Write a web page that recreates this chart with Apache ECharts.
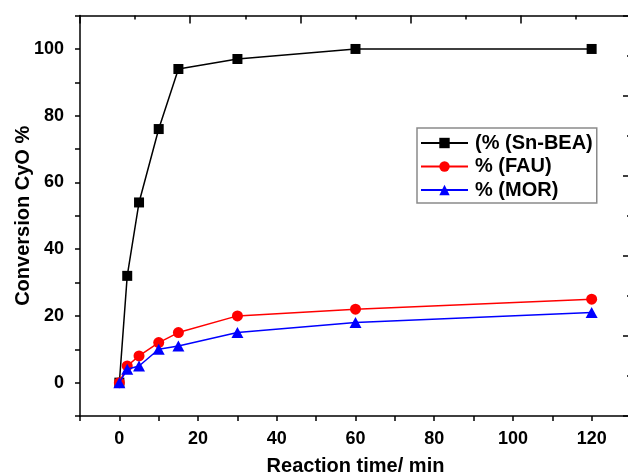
<!DOCTYPE html>
<html>
<head>
<meta charset="utf-8">
<script src="https://cdn.jsdelivr.net/npm/echarts@6/dist/echarts.min.js"></script>
<style>
  html, body { margin: 0; padding: 0; background: #fff; }
  #chart { width: 628px; height: 474px; }
</style>
</head>
<body>
<div id="chart"></div>
<script>
// Reaction times (min) at which conversion was sampled
const reactionTimes = [0, 2, 5, 10, 15, 30, 60, 120];

// Cyclohexanone oxide conversion (%) for each catalyst
const snBeaConversion = [0, 32, 54, 76, 94, 97, 100, 100];
const fauConversion   = [0, 5, 8, 12, 15, 20, 22, 25];
const morConversion   = [0, 4, 5, 10, 11, 15, 18, 21];

// Series names shown in the legend
const seriesNames = ['(% (Sn-BEA)', '% (FAU)', '% (MOR)'];

// Labelled ticks on the two main axes
const xTickLabels = [0, 20, 40, 60, 80, 100, 120];
const yTickLabels = [0, 20, 40, 60, 80, 100];

const FONT = '"Liberation Sans", Arial, sans-serif';

function pairs(values) {
  return reactionTimes.map((t, i) => [t, values[i]]);
}

const chart = echarts.init(document.getElementById('chart'), null, { renderer: 'canvas' });

// Plain frame axes (top/right) carrying only tick marks
function frameAxis(position) {
  return {
    type: 'value', position: position, min: 0, max: 5, interval: 1,
    axisLine: { show: true, onZero: false, lineStyle: { color: '#000', width: 1.5 } },
    axisTick: { show: true, inside: true, length: 8, lineStyle: { color: '#000', width: 1.5 } },
    minorTick: { show: true, splitNumber: 2, length: 4, lineStyle: { color: '#000', width: 1.5 } },
    axisLabel: { show: false },
    splitLine: { show: false },
    minorSplitLine: { show: false }
  };
}

chart.setOption({
  backgroundColor: '#fff',
  animation: false,
  grid: { left: 80, right: -3, top: 15.6, bottom: 58, outerBoundsMode: 'none' },
  legend: {
    orient: 'vertical',
    left: 417, top: 128,
    data: seriesNames,
    backgroundColor: '#fff',
    borderColor: '#8a8a8a', borderWidth: 1.5,
    padding: [5, 4, 3, 3],
    itemWidth: 47, itemHeight: 13, itemGap: 3.5,
    textStyle: { fontFamily: FONT, fontWeight: 'bold', fontSize: 20, color: '#000', lineHeight: 20, padding: [0, 0, 0, 2] }
  },
  xAxis: [
    {
      type: 'value', position: 'bottom', min: -10, max: 130, interval: 10,
      name: 'Reaction time/ min', nameLocation: 'middle', nameGap: 40,
      nameTextStyle: { fontFamily: FONT, fontWeight: 'bold', fontSize: 20, color: '#000' },
      axisLine: { show: true, onZero: false, lineStyle: { color: '#000', width: 1.5 } },
      axisTick: { show: true, inside: false, length: 5, lineStyle: { color: '#000', width: 1.5 } },
      axisLabel: {
        margin: 14, fontFamily: FONT, fontWeight: 'bold', fontSize: 18, color: '#000',
        showMinLabel: true, showMaxLabel: true,
        formatter: v => (xTickLabels.indexOf(v) >= 0 ? String(v) : '')
      },
      splitLine: { show: false }
    },
    frameAxis('top')
  ],
  yAxis: [
    {
      type: 'value', position: 'left', min: -10, max: 110, interval: 10,
      name: 'Conversion CyO %', nameLocation: 'middle', nameGap: 47,
      nameMoveOverlap: false,
      nameTextStyle: { fontFamily: FONT, fontWeight: 'bold', fontSize: 20, color: '#000' },
      axisLine: { show: true, onZero: false, lineStyle: { color: '#000', width: 1.5 } },
      axisTick: { show: true, inside: false, length: 5, lineStyle: { color: '#000', width: 1.5 } },
      axisLabel: {
        margin: 16, fontFamily: FONT, fontWeight: 'bold', fontSize: 18, color: '#000',
        showMinLabel: true, showMaxLabel: true,
        formatter: v => (yTickLabels.indexOf(v) >= 0 ? String(v) : '')
      },
      splitLine: { show: false }
    },
    frameAxis('right')
  ],
  series: [
    {
      name: seriesNames[0], type: 'line', data: pairs(snBeaConversion),
      symbol: 'rect', symbolSize: 10,
      itemStyle: { color: '#000' },
      lineStyle: { color: '#000', width: 1.5 },
      z: 2
    },
    {
      name: seriesNames[1], type: 'line', data: pairs(fauConversion),
      symbol: 'circle', symbolSize: 11,
      itemStyle: { color: '#ff0000' },
      lineStyle: { color: '#ff0000', width: 1.5 },
      z: 3
    },
    {
      name: seriesNames[2], type: 'line', data: pairs(morConversion),
      symbol: 'triangle', symbolSize: [12, 11],
      itemStyle: { color: '#0000ff' },
      lineStyle: { color: '#0000ff', width: 1.5 },
      z: 4
    }
  ]
});
</script>
</body>
</html>
